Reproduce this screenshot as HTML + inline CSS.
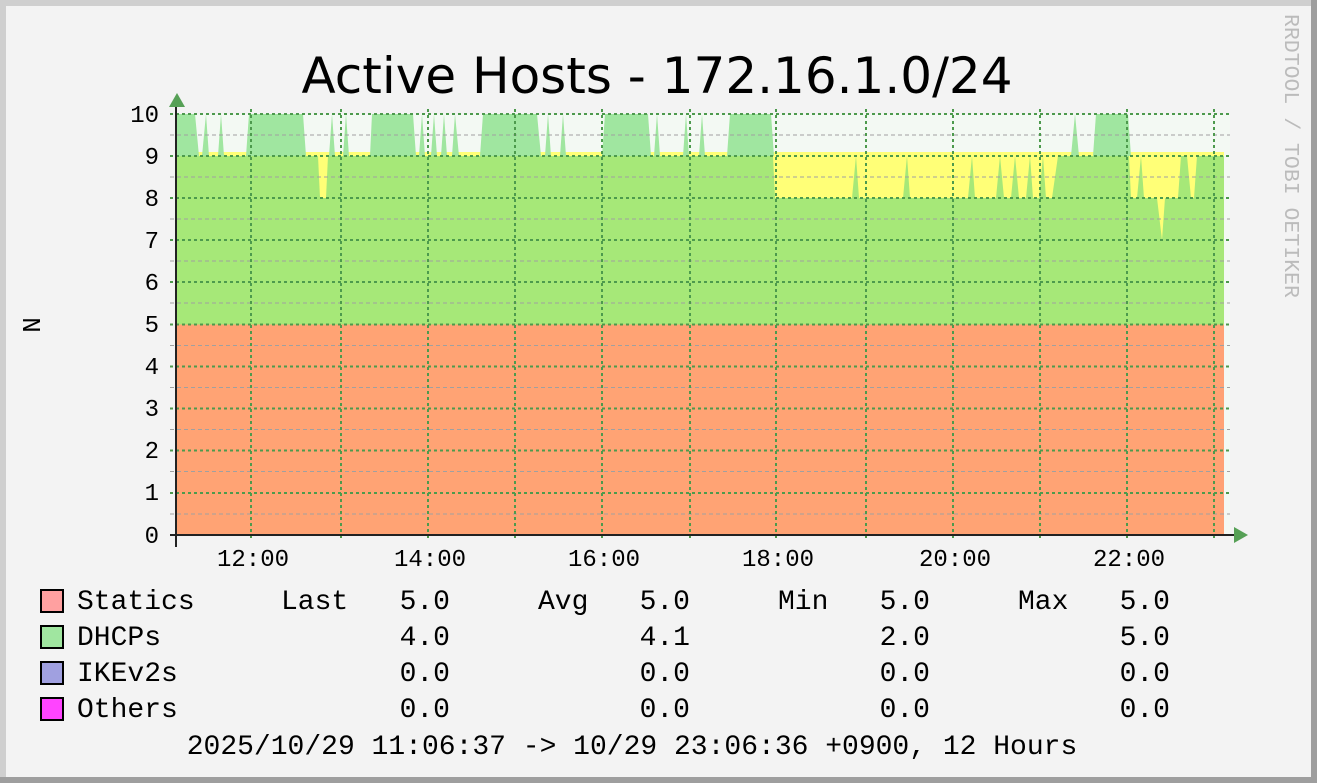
<!DOCTYPE html>
<html><head><meta charset="utf-8"><style>
body{margin:0;background:#f3f3f3}
svg{display:block}
text{font-family:"Liberation Mono","DejaVu Sans Mono",monospace}
</style></head><body>
<svg width="1317" height="783" xmlns="http://www.w3.org/2000/svg">
<rect width="1317" height="783" fill="#f3f3f3"/>
<rect x="0" y="0" width="1317" height="6" fill="#cfcfcf"/>
<rect x="0" y="0" width="6" height="783" fill="#cfcfcf"/>
<rect x="1311" y="0" width="6" height="783" fill="#9e9e9e"/>
<rect x="0" y="777" width="1317" height="6" fill="#9e9e9e"/>
<text x="657" y="93" font-size="50" text-anchor="middle" style="font-family:'DejaVu Sans','Liberation Sans',sans-serif">Active Hosts - 172.16.1.0/24</text>
<text transform="translate(1285,14) rotate(90)" font-size="21.5" fill="#bbbbbb">RRDTOOL / TOBI OETIKER</text>
<text transform="translate(40,325) rotate(-90)" font-size="26" text-anchor="middle">N</text>

<rect x="176" y="114" width="1054" height="421" fill="#f3f9f3"/>
<rect x="176" y="152" width="1048" height="383" fill="#ffff77"/>
<polygon fill="#a0e6a0" points="176,156 176,114 195,114 199,156 202,156 206,114 209,156 218,156 221,114 224,156 246,156 249,114 303,114 306,156 329,156 332,114 335,156 343,156 346,114 349,156 370,156 372,114 413,114 416,156 419,156 422,114 425,156 431,156 434,114 437,156 441,156 444,114 447,156 452,156 455,114 459,156 480,156 483,114 537,114 541,156 545,156 548,114 551,156 560,156 563,114 566,156 602,156 605,114 648,114 651,156 654,156 657,114 660,156 683,156 686,114 689,156 699,156 702,114 705,156 727,156 730,114 771,114 774,156 1071,156 1075,114 1079,156 1093,156 1096,114 1128,114 1131,156 1224,156"/>
<polygon fill="#a6e878" points="176,156 318,156 320,198 326,198 328,156 773,156 775,198 852,198 856,156 859,198 903,198 907,156 910,198 968,198 972,156 975,198 996,198 1000,156 1004,198 1011,198 1015,156 1019,198 1026,198 1030,156 1033,198 1039,198 1043,156 1046,198 1052,198 1058,156 1129,156 1131,198 1137,198 1141,156 1144,198 1157,198 1162,240 1165,198 1178,198 1181,156 1187,156 1191,198 1194,198 1197,156 1224,156 1224,535 176,535"/>
<rect x="176" y="324.5" width="1048" height="210.5" fill="#ffa374"/>

<g stroke="#a0a0a0" stroke-width="1" stroke-dasharray="4,3">
<line x1="170" x2="1230" y1="135" y2="135"/><line x1="170" x2="1230" y1="177" y2="177"/><line x1="170" x2="1230" y1="219" y2="219"/><line x1="170" x2="1230" y1="261" y2="261"/><line x1="170" x2="1230" y1="303" y2="303"/><line x1="170" x2="1230" y1="345.5" y2="345.5"/><line x1="170" x2="1230" y1="387.5" y2="387.5"/><line x1="170" x2="1230" y1="429.5" y2="429.5"/><line x1="170" x2="1230" y1="471.5" y2="471.5"/><line x1="170" x2="1230" y1="514" y2="514"/>
</g>
<g stroke="#4d9a4d" stroke-width="2" stroke-dasharray="3,3">
<line x1="170" x2="1230" y1="114" y2="114"/><line x1="170" x2="1230" y1="156" y2="156"/><line x1="170" x2="1230" y1="198" y2="198"/><line x1="170" x2="1230" y1="240" y2="240"/><line x1="170" x2="1230" y1="282" y2="282"/><line x1="170" x2="1230" y1="324.5" y2="324.5"/><line x1="170" x2="1230" y1="366.5" y2="366.5"/><line x1="170" x2="1230" y1="408.5" y2="408.5"/><line x1="170" x2="1230" y1="450.5" y2="450.5"/><line x1="170" x2="1230" y1="493" y2="493"/>
<line y1="109" y2="541" x1="251" x2="251"/><line y1="109" y2="541" x1="341" x2="341"/><line y1="109" y2="541" x1="428" x2="428"/><line y1="109" y2="541" x1="515" x2="515"/><line y1="109" y2="541" x1="602" x2="602"/><line y1="109" y2="541" x1="690" x2="690"/><line y1="109" y2="541" x1="776" x2="776"/><line y1="109" y2="541" x1="866" x2="866"/><line y1="109" y2="541" x1="953" x2="953"/><line y1="109" y2="541" x1="1040" x2="1040"/><line y1="109" y2="541" x1="1127" x2="1127"/><line y1="109" y2="541" x1="1214" x2="1214"/>
</g>
<line x1="176" y1="100" x2="176" y2="547" stroke="#222" stroke-width="2"/>
<line x1="170" y1="535" x2="1236" y2="535" stroke="#222" stroke-width="2"/>
<polygon points="169,107 177,93 185,107" fill="#56a056"/>
<polygon points="1234,527 1248,535 1234,543" fill="#56a056"/>

<g font-size="24" text-anchor="end">
<text x="159" y="122">10</text><text x="159" y="164">9</text><text x="159" y="206">8</text><text x="159" y="248">7</text><text x="159" y="290">6</text><text x="159" y="332">5</text><text x="159" y="374">4</text><text x="159" y="416">3</text><text x="159" y="458">2</text><text x="159" y="500">1</text><text x="159" y="543">0</text>
</g>
<g font-size="24" text-anchor="middle">
<text x="253" y="566">12:00</text><text x="430" y="566">14:00</text><text x="604" y="566">16:00</text><text x="778" y="566">18:00</text><text x="955" y="566">20:00</text><text x="1129" y="566">22:00</text>
</g>

<g stroke="#000" stroke-width="2">
<rect x="41" y="590" width="22" height="22" fill="#ffa0a0"/>
<rect x="41" y="626" width="22" height="22" fill="#a0e6a0"/>
<rect x="41" y="662" width="22" height="22" fill="#a0a0e0"/>
<rect x="41" y="698" width="22" height="22" fill="#ff44ff"/>
</g>
<g font-size="28">
<text x="77" y="609">Statics</text><text x="77" y="645">DHCPs</text><text x="77" y="681">IKEv2s</text><text x="77" y="717">Others</text>
<text x="281" y="609">Last</text><text x="538" y="609">Avg</text><text x="778" y="609">Min</text><text x="1018" y="609">Max</text>
</g>
<g font-size="28" text-anchor="end">
<text x="450" y="609">5.0</text><text x="690" y="609">5.0</text><text x="930" y="609">5.0</text><text x="1170" y="609">5.0</text>
<text x="450" y="645">4.0</text><text x="690" y="645">4.1</text><text x="930" y="645">2.0</text><text x="1170" y="645">5.0</text>
<text x="450" y="681">0.0</text><text x="690" y="681">0.0</text><text x="930" y="681">0.0</text><text x="1170" y="681">0.0</text>
<text x="450" y="717">0.0</text><text x="690" y="717">0.0</text><text x="930" y="717">0.0</text><text x="1170" y="717">0.0</text>
</g>
<text x="632" y="754" font-size="28" text-anchor="middle">2025/10/29 11:06:37 -&gt; 10/29 23:06:36 +0900, 12 Hours</text>
</svg>
</body></html>
